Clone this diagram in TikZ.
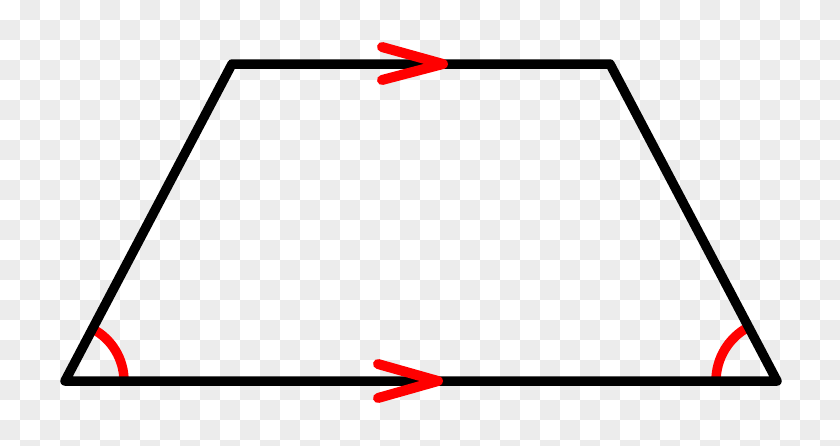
\documentclass[tikz,border=0pt]{standalone}
\begin{document}
\begin{tikzpicture}[x=1pt,y=-1pt,
  edge/.style={line width=9.5pt,black,line join=round,line cap=round},
  chev/.style={line width=10pt,red,line cap=round,line join=round},
  anglearc/.style={line width=9.5pt,red}]
\definecolor{chk}{RGB}{236,236,236}
\useasboundingbox (0,0) rectangle (840,445);
\fill[white] (0,0) rectangle (840,445);
\foreach \i in {0,...,41}{
  \foreach \j in {0,...,22}{
    \pgfmathtruncatemacro{\pp}{mod(\i+\j,2)}
    \ifnum\pp=1
      \fill[chk] (\i*20,\j*20) rectangle ++(20,20);
    \fi
  }
}
\clip (0,0) rectangle (840,445);
\coordinate (A) at (65,381);
\coordinate (B) at (777,381);
\coordinate (C) at (610,64);
\coordinate (D) at (232,64);
\draw[anglearc] ([shift={(0:59)}]A) arc[start angle=0,end angle=-62.2,radius=59];
\draw[anglearc] ([shift={(180:61)}]B) arc[start angle=180,end angle=242,radius=61];
\draw[edge] (A) -- (B) -- (C) -- (D) -- cycle;
\coordinate (t1) at (382,47);
\coordinate (t2) at (443,64);
\coordinate (t3) at (382,80);
\coordinate (b1) at (378,364);
\coordinate (b2) at (438,381);
\coordinate (b3) at (378,398);
\draw[chev] (t1) -- (t2) -- (t3);
\draw[chev] (b1) -- (b2) -- (b3);
\end{tikzpicture}
\end{document}
